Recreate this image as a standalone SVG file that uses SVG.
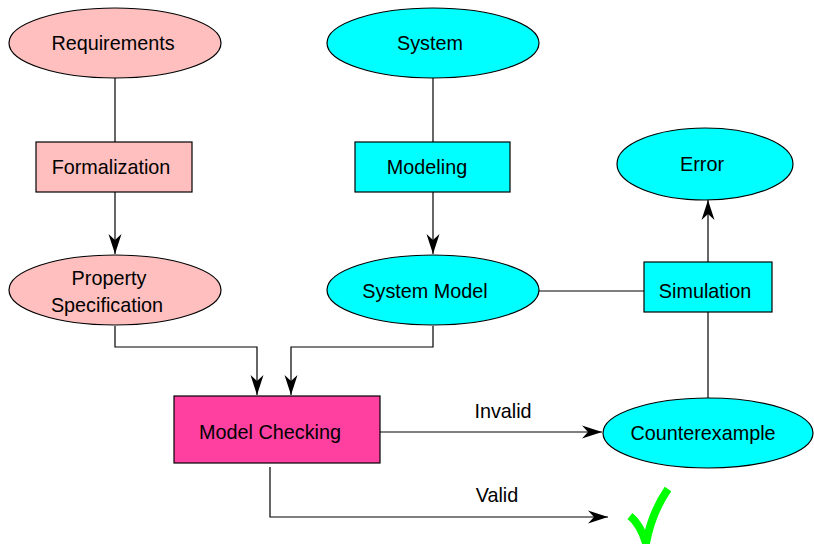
<svg xmlns="http://www.w3.org/2000/svg" width="814" height="544" viewBox="0 0 814 544">
<style>
.n{stroke:#000;stroke-width:1.2}
.pink{fill:#ffbfbf}
.cyan{fill:#00ffff}
.mag{fill:#ff40a0}
text{font-family:"Liberation Sans",Arial,sans-serif;font-size:19.8px;fill:#000;text-anchor:middle}
.c{fill:none;stroke:#000;stroke-width:1.2}
</style>
<defs>
<marker id="ah" markerUnits="userSpaceOnUse" markerWidth="22" markerHeight="14" refX="20" refY="7" orient="auto" viewBox="0 0 22 14">
<path d="M0,0.5 L20,7 L0,13.5 L6,7 Z" fill="#000"/>
</marker>
</defs>
<rect width="814" height="544" fill="#fff"/>
<g id="connectors">
<line class="c" x1="115" y1="78" x2="115" y2="142"/>
<line class="c" x1="115" y1="192" x2="115" y2="254" marker-end="url(#ah)"/>
<line class="c" x1="433" y1="78" x2="433" y2="142"/>
<line class="c" x1="433" y1="192" x2="433" y2="254" marker-end="url(#ah)"/>
<polyline class="c" points="115,326 115,347 257,347 257,395" marker-end="url(#ah)"/>
<polyline class="c" points="433,326 433,347 291,347 291,395" marker-end="url(#ah)"/>
<line class="c" x1="539" y1="291" x2="644" y2="291"/>
<line class="c" x1="708" y1="262" x2="708" y2="200" marker-end="url(#ah)"/>
<line class="c" x1="708" y1="312" x2="708" y2="398"/>
<line class="c" x1="380" y1="432" x2="602" y2="432" marker-end="url(#ah)"/>
<polyline class="c" points="270,467 270,517 608,517" marker-end="url(#ah)"/>
<text x="503" y="418">Invalid</text>
<text x="497" y="502">Valid</text>
</g>
<g id="requirements">
<ellipse class="n pink" cx="115" cy="43" rx="106" ry="35"/>
<text x="113" y="50">Requirements</text>
</g>
<g id="formalization">
<rect class="n pink" x="36" y="142" width="156" height="50"/>
<text x="111" y="174">Formalization</text>
</g>
<g id="property">
<ellipse class="n pink" cx="115" cy="290" rx="106" ry="35"/>
<text x="109" y="285">Property</text>
<text x="107" y="312">Specification</text>
</g>
<g id="system">
<ellipse class="n cyan" cx="433" cy="43" rx="106" ry="35"/>
<text x="430" y="50">System</text>
</g>
<g id="modeling">
<rect class="n cyan" x="355" y="142" width="155" height="50"/>
<text x="427" y="174">Modeling</text>
</g>
<g id="systemmodel">
<ellipse class="n cyan" cx="433" cy="290" rx="106" ry="35"/>
<text x="425" y="298">System Model</text>
</g>
<g id="error">
<ellipse class="n cyan" cx="705" cy="164" rx="88" ry="36"/>
<text x="702" y="171">Error</text>
</g>
<g id="simulation">
<rect class="n cyan" x="644" y="262" width="128" height="50"/>
<text x="705" y="298">Simulation</text>
</g>
<g id="modelchecking">
<rect class="n mag" x="174" y="396" width="206" height="67"/>
<text x="270" y="439">Model Checking</text>
</g>
<g id="counterexample">
<ellipse class="n cyan" cx="708" cy="433" rx="105" ry="35"/>
<text x="703" y="440">Counterexample</text>
</g>
<g id="check">
<path d="M630,516 Q640,524 646,543 Q652,512 668,489" fill="none" stroke="#00ff00" stroke-width="8" stroke-linejoin="round"/>
</g>
</svg>
